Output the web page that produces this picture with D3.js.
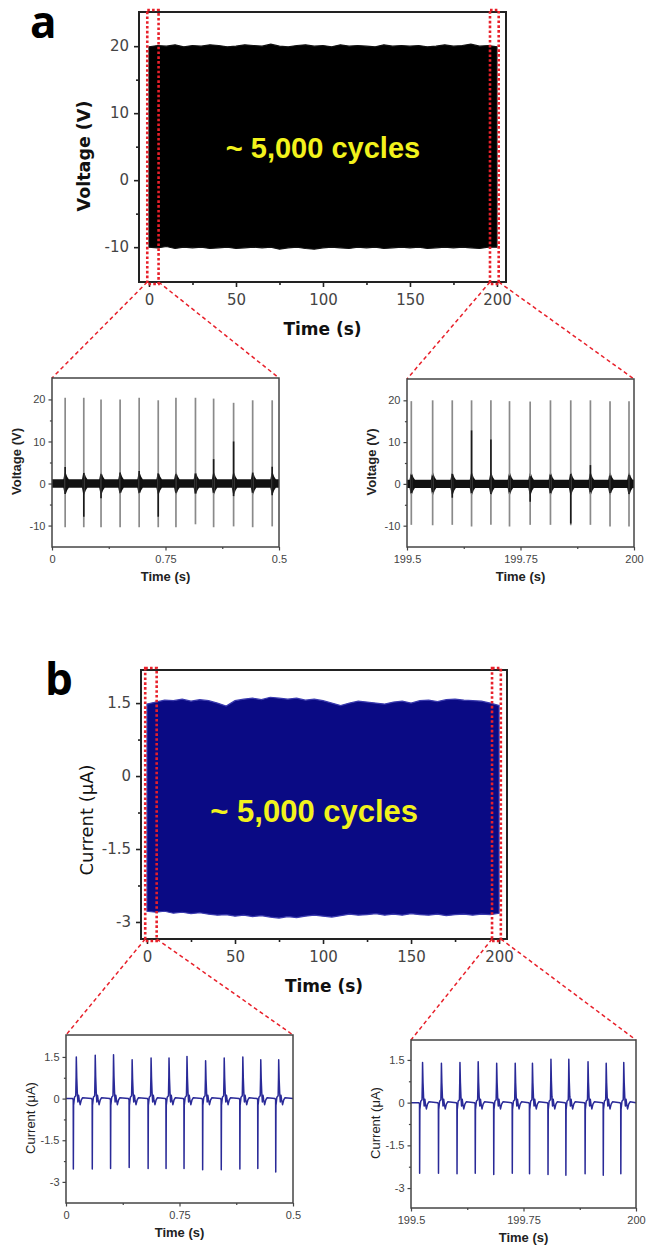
<!DOCTYPE html>
<html>
<head>
<meta charset="utf-8">
<script src="https://cdn.jsdelivr.net/npm/d3@7/dist/d3.min.js"></script>
<style>
  body { margin: 0; background: #fff; }
  svg { display: block; }
</style>
</head>
<body>
<svg width="648" height="1248"></svg>
<script>
// ---------- values ----------
// envelope of the long runs, sampled every 5 s
const envTime = [0, 5, 10, 15, 20, 25, 30, 35, 40, 45, 50, 55, 60, 65, 70, 75, 80, 85, 90, 95, 100,
  105, 110, 115, 120, 125, 130, 135, 140, 145, 150, 155, 160, 165, 170, 175, 180, 185, 190, 195, 200];
const voltUpper = [19.9, 20.1, 20.0, 20.2, 19.9, 20.1, 20.0, 20.2, 20.1, 19.9, 20.0, 20.2, 20.1, 20.0, 20.3, 20.0,
  19.9, 20.1, 20.2, 20.0, 20.1, 19.9, 20.2, 20.0, 20.1, 20.0, 19.9, 20.2, 20.0, 20.1, 20.0, 20.1, 19.9, 20.0,
  20.2, 20.0, 20.1, 20.3, 20.0, 20.1, 19.9];
const voltLower = [-10.0, -10.1, -9.9, -10.2, -10.0, -10.1, -10.0, -10.2, -10.1, -10.0, -10.2, -10.1, -10.0,
  -10.1, -10.0, -10.3, -10.1, -10.0, -10.2, -10.3, -10.1, -10.0, -10.1, -10.2, -10.0, -10.1, -10.0, -10.2,
  -10.1, -10.0, -10.1, -10.0, -10.2, -10.1, -10.0, -10.1, -10.0, -10.1, -10.2, -10.0, -10.0];
const currUpper = [1.48, 1.52, 1.56, 1.55, 1.58, 1.54, 1.57, 1.55, 1.50, 1.44, 1.55, 1.58, 1.60, 1.57, 1.62,
  1.60, 1.58, 1.60, 1.56, 1.58, 1.55, 1.50, 1.45, 1.50, 1.54, 1.52, 1.50, 1.48, 1.52, 1.54, 1.50, 1.55, 1.56,
  1.53, 1.57, 1.58, 1.56, 1.55, 1.54, 1.50, 1.45];
const currLower = [-2.78, -2.80, -2.78, -2.82, -2.80, -2.83, -2.81, -2.84, -2.86, -2.85, -2.88, -2.86, -2.89,
  -2.87, -2.90, -2.92, -2.89, -2.91, -2.88, -2.86, -2.88, -2.90, -2.87, -2.84, -2.86, -2.85, -2.83, -2.86,
  -2.84, -2.86, -2.83, -2.85, -2.86, -2.84, -2.87, -2.85, -2.84, -2.86, -2.84, -2.85, -2.82];

// voltage pulses, first and last half second
const vStartT      = [0.029, 0.070, 0.108, 0.150, 0.192, 0.234, 0.273, 0.316, 0.356, 0.400, 0.442, 0.485];
const vStartPeak   = [20.4, 20.4, 20.0, 20.0, 20.4, 19.8, 20.4, 20.4, 20.2, 19.2, 19.8, 19.8];
const vStartTrough = [-10.4, -10.4, -10.4, -10.4, -10.4, -10.4, -10.4, -9.7, -10.4, -10.2, -10.4, -10.2];
const vStartDarkHi = [3.9, 2.5, 2.2, 2.6, 3.0, 2.4, 2.2, 2.4, 5.8, 10.0, 2.6, 4.0];
const vStartDarkLo = [-2.5, -7.9, -3.5, -2.2, -2.2, -7.9, -2.2, -2.4, -2.2, -3.0, -2.2, -2.8];

const vEndT      = [199.5095, 199.5565, 199.5997, 199.6422, 199.6848, 199.7258, 199.7713, 199.8160, 199.8607,
  199.9040, 199.9472, 199.9890];
const vEndPeak   = [19.8, 20.0, 20.0, 20.0, 20.0, 19.8, 19.7, 20.0, 20.0, 20.0, 19.8, 19.8];
const vEndTrough = [-9.8, -9.9, -9.8, -10.2, -9.8, -10.2, -9.8, -9.8, -9.9, -9.8, -10.2, -10.2];
const vEndDarkHi = [2.2, 2.0, 2.4, 12.8, 10.6, 2.0, 1.8, 2.2, 2.4, 4.5, 2.0, 2.2];
const vEndDarkLo = [-2.2, -2.0, -3.3, -2.2, -2.4, -2.0, -4.3, -2.2, -9.5, -2.0, -2.2, -2.4];
const vNoise = 1.0;

// current pulses, first and last half second
const iStartT      = [0.0227, 0.0644, 0.1047, 0.1457, 0.1874, 0.2269, 0.2665, 0.3075, 0.3485, 0.3895, 0.4290, 0.4685];
const iStartPeak   = [1.50, 1.56, 1.58, 1.40, 1.46, 1.46, 1.52, 1.36, 1.46, 1.50, 1.40, 1.40];
const iStartTrough = [-2.54, -2.54, -2.52, -2.48, -2.52, -2.52, -2.52, -2.56, -2.56, -2.54, -2.52, -2.64];

const iEndT      = [199.5257, 199.5676, 199.6088, 199.6493, 199.6904, 199.7316, 199.7699, 199.8110, 199.8507,
  199.8934, 199.9338, 199.9728];
const iEndPeak   = [1.41, 1.38, 1.41, 1.44, 1.38, 1.38, 1.38, 1.52, 1.52, 1.44, 1.38, 1.41];
const iEndTrough = [-2.48, -2.48, -2.50, -2.48, -2.52, -2.48, -2.50, -2.52, -2.55, -2.50, -2.55, -2.50];

// tick labels
const mainTimeTicks = [0, 50, 100, 150, 200];
const mainTimeMinor = [25, 75, 125, 175];
const voltTicks = [-10, 0, 10, 20];
const voltMinor = [-5, 5, 15];
const currTicks = [-3, -1.5, 0, 1.5];
const currMinor = [-2.25, -0.75, 0.75];
const startTimeLabels = ["0", "0.75", "0.5"];
const endTimeLabels = ["199.5", "199.75", "200"];
const zoomWindows = [[-1, 5.5], [196, 201]];

// one pulse of current: [dt, x peak, x trough, offset]
const pulseShape = [
  [-0.0080, 0, 0, 0], [-0.0068, 0, 0, -0.05], [-0.0065, 0, 1, 0], [-0.0060, 0, 0, -0.25],
  [-0.0040, 0, 0, 0.05], [-0.0012, 0, 0, 0.1], [-0.0004, 0.55, 0, 0], [0, 1, 0, 0],
  [0.0010, 0.5, 0, 0], [0.0022, 0.15, 0, 0], [0.0035, 0, 0, -0.12], [0.0050, 0, 0, 0.12],
  [0.0065, 0, 0, -0.05], [0.0085, 0, 0, -0.22], [0.0110, 0, 0, -0.05], [0.0140, 0, 0, 0.03]
];
// burst of noise around a voltage pulse: [dt, half width]
const burstShape = [[-0.004, 1], [-0.0015, 2.4], [0.0008, 2.7], [0.0045, 1.6], [0.008, 1]];

// ---------- drawing ----------
const svg = d3.select("svg");
const red = "#e8202a";
let clipId = 0;

function addClip(b) {
  const id = "clip" + (clipId++);
  svg.append("clipPath").attr("id", id).append("rect")
    .attr("x", b.left).attr("y", b.top).attr("width", b.right - b.left).attr("height", b.bottom - b.top);
  return "url(#" + id + ")";
}

function drawAxes(x, y, b, o) {
  const fmt = o.xLabels ? ((d, i) => o.xLabels[i]) : (d => String(d));
  const ax = svg.append("g").attr("transform", `translate(0,${b.bottom})`)
    .call(d3.axisBottom(x).tickValues(o.xTicks).tickSize(o.tick).tickPadding(o.pad).tickFormat(fmt));
  const axm = svg.append("g").attr("transform", `translate(0,${b.bottom})`)
    .call(d3.axisBottom(x).tickValues(o.xMinor).tickSize(o.tick * 0.6).tickFormat(""));
  const ay = svg.append("g").attr("transform", `translate(${b.left},0)`)
    .call(d3.axisLeft(y).tickValues(o.yTicks).tickSize(o.tick).tickPadding(o.pad - 2).tickFormat(d => String(d)));
  const aym = svg.append("g").attr("transform", `translate(${b.left},0)`)
    .call(d3.axisLeft(y).tickValues(o.yMinor).tickSize(o.tick * 0.6).tickFormat(""));
  [ax, axm, ay, aym].forEach(a => {
    a.select(".domain").remove();
    a.selectAll("line").attr("stroke", o.frame).attr("stroke-width", o.frameW * 0.8);
    a.selectAll("text").attr("font-family", o.font).attr("font-size", o.fs).attr("fill", "#444");
  });
  svg.append("rect").attr("x", b.left).attr("y", b.top)
    .attr("width", b.right - b.left).attr("height", b.bottom - b.top)
    .attr("fill", "none").attr("stroke", o.frame).attr("stroke-width", o.frameW);
}

function mainPanel(p) {
  const x = d3.scaleLinear().domain(p.xDom).range([p.left, p.right]);
  const y = d3.scaleLinear().domain(p.yDom).range([p.bottom, p.top]);
  const rows = envTime.map((t, i) => ({ t, hi: p.upper[i], lo: p.lower[i] }));
  svg.append("path").datum(rows)
    .attr("d", d3.area().x(d => x(d.t)).y0(d => y(d.lo)).y1(d => y(d.hi)))
    .attr("fill", p.color).attr("stroke", p.edge).attr("stroke-width", 1.2);

  svg.append("text").attr("x", x(p.note[0])).attr("y", y(p.note[1]))
    .attr("text-anchor", "middle").attr("dominant-baseline", "central")
    .attr("font-family", "Liberation Sans, Arial, sans-serif").attr("font-weight", "bold")
    .attr("font-size", p.noteSize).attr("fill", "#f2f21c").text("~ 5,000 cycles");

  drawAxes(x, y, p, { xTicks: mainTimeTicks, xMinor: mainTimeMinor, yTicks: p.yTicks, yMinor: p.yMinor,
    tick: 5, pad: 7, font: "DejaVu Sans, sans-serif", fs: 15, frame: "#222", frameW: 2 });

  svg.append("text").attr("x", (p.left + p.right) / 2).attr("y", p.bottom + 53)
    .attr("text-anchor", "middle").attr("font-family", "DejaVu Sans, sans-serif")
    .attr("font-weight", "bold").attr("font-size", 17).attr("fill", "#111").text("Time (s)");
  svg.append("text").attr("transform", `translate(${p.left - 55},${p.yLabelY}) rotate(-90)`)
    .attr("text-anchor", "middle").attr("dominant-baseline", "central")
    .attr("font-family", "DejaVu Sans, sans-serif").attr("font-weight", p.yLabelWeight)
    .attr("font-size", p.yLabelSize).attr("fill", "#111").text(p.yLabel);

  svg.append("text").attr("x", p.tagX).attr("y", p.tagY)
    .attr("font-family", "Open Sans, sans-serif").attr("font-weight", "bold")
    .attr("font-size", 44).attr("fill", "#000").text(p.tag);

  // zoom windows + connectors to the insets
  zoomWindows.forEach((w, k) => {
    svg.append("rect").attr("x", x(w[0])).attr("y", p.top - 2)
      .attr("width", x(w[1]) - x(w[0])).attr("height", p.bottom - p.top + 4)
      .attr("fill", "none").attr("stroke", red).attr("stroke-width", 2.6)
      .attr("stroke-dasharray", "2.6 2.2");
    const ins = p.insets[k];
    [[w[0], ins.left], [w[1], ins.right]].forEach(([t, ix]) => {
      svg.append("line").attr("x1", x(t)).attr("y1", p.bottom).attr("x2", ix).attr("y2", ins.top)
        .attr("stroke", red).attr("stroke-width", 1.5).attr("stroke-dasharray", "4 3");
    });
  });
}

function insetFrame(b, tDom, yDom, yTicks, yMinor, xLabels, yLabel, yBold) {
  const x = d3.scaleLinear().domain(tDom).range([b.left, b.right]);
  const y = d3.scaleLinear().domain(yDom).range([b.bottom, b.top]);
  return { x, y, finish() {
    drawAxes(x, y, b, { xTicks: [tDom[0], (tDom[0] + tDom[1]) / 2, tDom[1]],
      xMinor: [tDom[0] + (tDom[1] - tDom[0]) / 4, tDom[0] + 3 * (tDom[1] - tDom[0]) / 4],
      xLabels, yTicks, yMinor, tick: 3.5, pad: 5, font: "Liberation Sans, Arial, sans-serif", fs: 11,
      frame: "#444", frameW: 1.5 });
    svg.append("text").attr("x", (b.left + b.right) / 2).attr("y", b.bottom + 34)
      .attr("text-anchor", "middle").attr("font-family", "Liberation Sans, Arial, sans-serif")
      .attr("font-weight", "bold").attr("font-size", 13).attr("fill", "#222").text("Time (s)");
    svg.append("text").attr("transform", `translate(${b.left - 36},${(b.top + b.bottom) / 2 - 1}) rotate(-90)`)
      .attr("text-anchor", "middle").attr("dominant-baseline", "central")
      .attr("font-family", "Liberation Sans, Arial, sans-serif").attr("font-weight", yBold ? "bold" : "normal")
      .attr("font-size", 13).attr("fill", "#222").text(yLabel);
  } };
}

function voltInset(b, tDom, T, peak, trough, darkHi, darkLo, xLabels) {
  const f = insetFrame(b, tDom, [-15.1, 25.1], voltTicks, voltMinor, xLabels, "Voltage (V)", true);
  const { x, y } = f;
  const g = svg.append("g").attr("clip-path", addClip(b));
  g.append("path").datum(tDom)
    .attr("d", d3.area().x(d => x(d)).y0(y(-vNoise)).y1(y(vNoise))).attr("fill", "#111");
  T.forEach((t, i) => {
    g.append("path").datum(burstShape)
      .attr("d", d3.area().x(d => x(t + d[0])).y0(d => y(-d[1])).y1(d => y(d[1])))
      .attr("fill", "#111");
    g.append("line").attr("x1", x(t)).attr("x2", x(t)).attr("y1", y(trough[i])).attr("y2", y(peak[i]))
      .attr("stroke", "#8a8a8a").attr("stroke-width", 1.7);
    g.append("line").attr("x1", x(t)).attr("x2", x(t)).attr("y1", y(darkLo[i])).attr("y2", y(darkHi[i]))
      .attr("stroke", "#1a1a1a").attr("stroke-width", 1.6);
  });
  f.finish();
}

function currInset(b, tDom, yDom, T, peak, trough, xLabels) {
  const f = insetFrame(b, tDom, yDom, currTicks, currMinor, xLabels, "Current (\u03bcA)", false);
  const { x, y } = f;
  const pts = [[tDom[0], 0]];
  T.forEach((t, i) => pulseShape.forEach(([dt, a, c, o]) => pts.push([t + dt, a * peak[i] + c * trough[i] + o])));
  pts.push([tDom[1], 0]);
  svg.append("g").attr("clip-path", addClip(b)).append("path").datum(pts)
    .attr("d", d3.line().x(d => x(d[0])).y(d => y(d[1])))
    .attr("fill", "none").attr("stroke", "#2a2a98").attr("stroke-width", 1.5)
    .attr("stroke-linejoin", "round");
  f.finish();
}

// layout boxes
const aInsL = { left: 52, right: 279, top: 378, bottom: 547 };
const aInsR = { left: 407, right: 634, top: 379, bottom: 547 };
const bInsL = { left: 66, right: 293, top: 1035, bottom: 1203 };
const bInsR = { left: 411, right: 636, top: 1040, bottom: 1208 };

mainPanel({ left: 139, right: 506, top: 12, bottom: 282, xDom: [-5.75, 205.2], yDom: [-15.2, 25.1],
  upper: voltUpper, lower: voltLower, color: "#000", edge: "#111", note: [100, 4.8], noteSize: 29,
  yTicks: voltTicks, yMinor: voltMinor, yLabel: "Voltage (V)", yLabelY: 156, yLabelSize: 17.5,
  yLabelWeight: "bold", tag: "a", tagX: 30, tagY: 38, insets: [aInsL, aInsR] });

mainPanel({ left: 141, right: 507, top: 670, bottom: 939, xDom: [-3.4, 204.5], yDom: [-3.35, 2.18],
  upper: currUpper, lower: currLower, color: "#0a0a84", edge: "#3a3aae", note: [95, -0.72], noteSize: 31,
  yTicks: currTicks, yMinor: currMinor, yLabel: "Current (\u03bcA)", yLabelY: 820, yLabelSize: 18,
  yLabelWeight: "normal", tag: "b", tagX: 45, tagY: 695, insets: [bInsL, bInsR] });

voltInset(aInsL, [0, 0.5], vStartT, vStartPeak, vStartTrough, vStartDarkHi, vStartDarkLo, startTimeLabels);
voltInset(aInsR, [199.5, 200], vEndT, vEndPeak, vEndTrough, vEndDarkHi, vEndDarkLo, endTimeLabels);
currInset(bInsL, [0, 0.5], [-3.76, 2.29], iStartT, iStartPeak, iStartTrough, startTimeLabels);
currInset(bInsR, [199.5, 200], [-3.7, 2.2], iEndT, iEndPeak, iEndTrough, endTimeLabels);
</script>
</body>
</html>
